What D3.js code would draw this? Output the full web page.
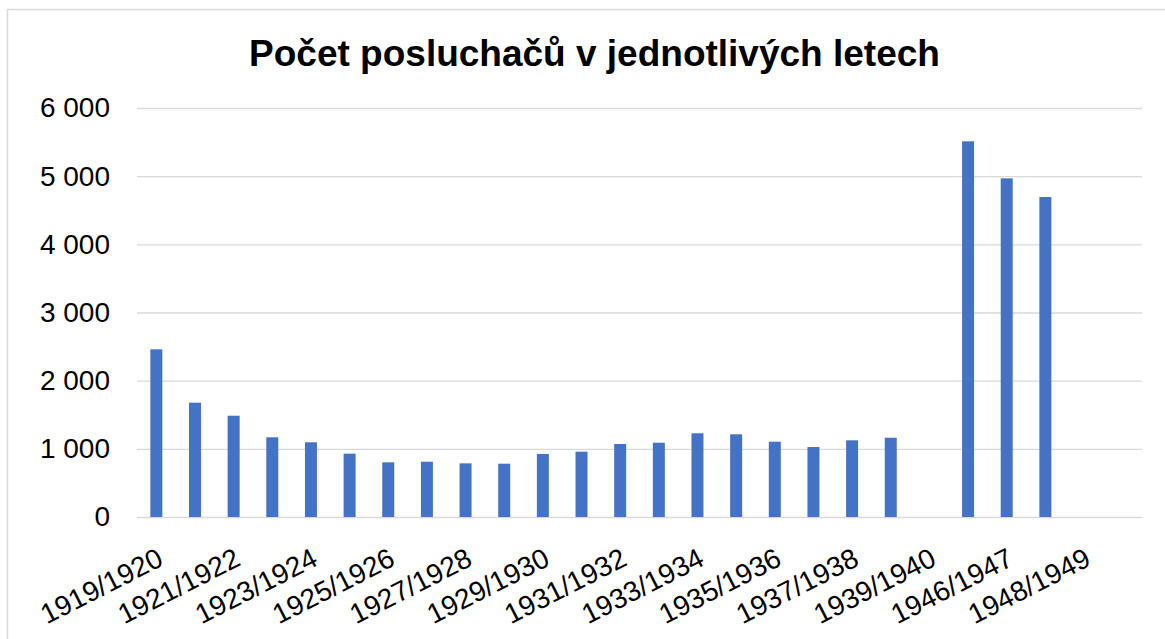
<!DOCTYPE html>
<html>
<head>
<meta charset="utf-8">
<script src="https://cdn.jsdelivr.net/npm/d3@7"></script>
<style>
  html, body { margin: 0; padding: 0; background: #fff; }
  svg { display: block; font-family: "Liberation Sans", Arial, sans-serif; }
</style>
</head>
<body>
<div id="chart"></div>
<script>
// school years (one bar per year, gaps for missing years)
const years = [
  "1919/1920", "1920/1921", "1921/1922", "1922/1923", "1923/1924",
  "1924/1925", "1925/1926", "1926/1927", "1927/1928", "1928/1929",
  "1929/1930", "1930/1931", "1931/1932", "1932/1933", "1933/1934",
  "1934/1935", "1935/1936", "1936/1937", "1937/1938", "1938/1939",
  "1939/1940", "1945/1946", "1946/1947", "1947/1948", "1948/1949",
  "1949/1950"
];
// number of students, null = no data
const students = [
  2460, 1677, 1486, 1169, 1096, 929, 802, 811, 787, 782,
  924, 958, 1071, 1090, 1228, 1213, 1105, 1027, 1125, 1163,
  null, 5511, 4968, 4694, null, null
];
const yTicks = [0, 1000, 2000, 3000, 4000, 5000, 6000];
// only every other year gets a label
const labelledYears = years.filter((d, i) => i % 2 === 0);

const title = "Počet posluchačů v jednotlivých letech";

const width = 1165, height = 639;
const plot = { left: 137, right: 1142, top: 108, bottom: 517 };

const svg = d3.select("#chart").append("svg")
  .attr("width", width)
  .attr("height", height);

// chart frame (runs off the right and bottom edge)
svg.append("rect")
  .attr("x", 7.5).attr("y", 9.5)
  .attr("width", 1200).attr("height", 700)
  .attr("fill", "none")
  .attr("stroke", "#d9d9d9")
  .attr("stroke-width", 1.5);

svg.append("text")
  .attr("x", 594.5).attr("y", 66)
  .attr("text-anchor", "middle")
  .style("font-size", "37px")
  .style("font-weight", "bold")
  .attr("fill", "#000")
  .text(title);

const x = d3.scaleBand()
  .domain(years)
  .range([plot.left, plot.right])
  .paddingInner(0.69)
  .paddingOuter(0.345);

const y = d3.scaleLinear()
  .domain([0, 6000])
  .range([plot.bottom, plot.top]);

const fmt = d3.formatLocale({ decimal: ",", thousands: " ", grouping: [3], currency: ["", ""] }).format(",d");

// gridlines + value labels
const yAxis = d3.axisLeft(y)
  .tickValues(yTicks)
  .tickSize(-(plot.right - plot.left))
  .tickPadding(27)
  .tickFormat(fmt);

svg.append("g")
  .attr("transform", `translate(${plot.left},0)`)
  .call(yAxis)
  .call(g => g.select(".domain").remove())
  .call(g => g.selectAll(".tick line").attr("stroke", "#d9d9d9").attr("stroke-width", 1.3))
  .call(g => g.selectAll(".tick text")
    .attr("fill", "#000")
    .style("font-size", "28px")
    .style("font-family", "Liberation Sans, Arial, sans-serif"));

svg.append("g")
  .selectAll("rect")
  .data(years.map((d, i) => ({ year: d, value: students[i] })).filter(d => d.value != null))
  .join("rect")
  .attr("x", d => x(d.year))
  .attr("y", d => y(d.value))
  .attr("width", x.bandwidth())
  .attr("height", d => y(0) - y(d.value))
  .attr("fill", "#4472c4");

// rotated category labels, every second year
const xAxis = svg.append("g");
xAxis.selectAll("text")
  .data(labelledYears)
  .join("text")
  .attr("transform", d => `translate(${x(d) + x.bandwidth() / 2 - 3},542) rotate(-27)`)
  .attr("text-anchor", "end")
  .attr("dy", "0.9em")
  .style("font-size", "28px")
  .attr("fill", "#000")
  .text(d => d);
</script>
</body>
</html>
